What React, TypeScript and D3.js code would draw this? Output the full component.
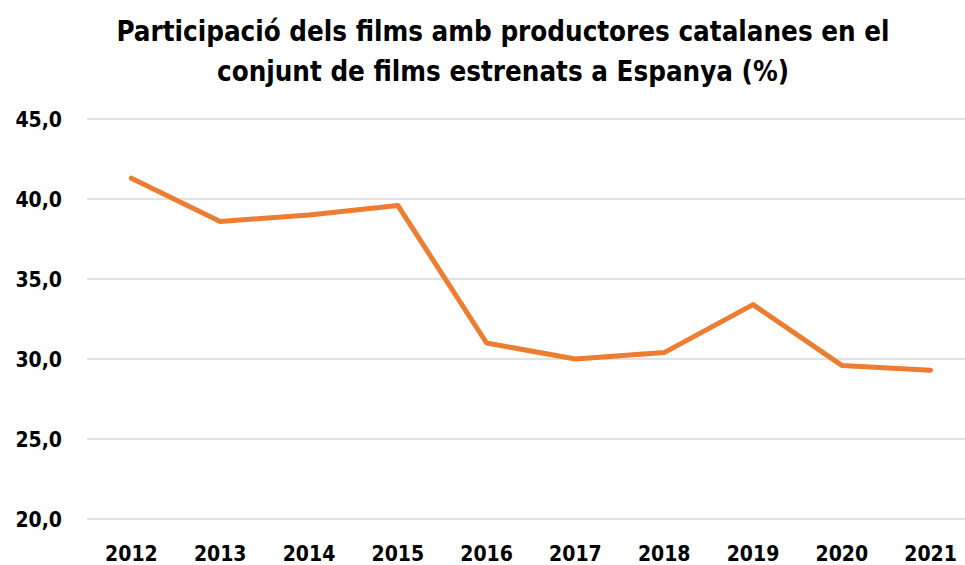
import React, { useEffect, useRef } from "react";
import * as d3 from "d3";

const width = 965;
const height = 565;

const margin = { top: 119, right: -10, bottom: 46, left: 87 };

const years = ["2012", "2013", "2014", "2015", "2016", "2017", "2018", "2019", "2020", "2021"];
const shares = [41.3, 38.6, 39.0, 39.6, 31.0, 30.0, 30.4, 33.4, 29.6, 29.3];
const yTicks = [20, 25, 30, 35, 40, 45];
const titleLines = [
  "Participació dels films amb productores catalanes en el",
  "conjunt de films estrenats a Espanya (%)",
];

const font = "'DejaVu Sans Condensed', 'DejaVu Sans', sans-serif";

export default function App() {
  const svgRef = useRef<SVGSVGElement>(null);

  useEffect(() => {
    const svg = d3.select(svgRef.current);
    svg.selectAll("*").remove();

    const x = d3.scaleBand<string>()
      .domain(years)
      .range([margin.left, width - margin.right]);
    const y = d3.scaleLinear()
      .domain([20, 45])
      .range([height - margin.bottom, margin.top]);

    // title
    svg.append("g")
      .selectAll("text")
      .data(titleLines)
      .join("text")
      .attr("x", 503)
      .attr("y", (d, i) => 41 + i * 40)
      .attr("text-anchor", "middle")
      .attr("font-family", font)
      .attr("font-weight", "bold")
      .attr("font-size", 27.5)
      .attr("fill", "#000")
      .text(d => d);

    // gridlines
    svg.append("g")
      .selectAll("line")
      .data(yTicks)
      .join("line")
      .attr("x1", margin.left)
      .attr("x2", width)
      .attr("y1", d => y(d))
      .attr("y2", d => y(d))
      .attr("stroke", "#d9d9d9")
      .attr("stroke-width", 1.5);

    // y labels
    svg.append("g")
      .selectAll("text")
      .data(yTicks)
      .join("text")
      .attr("x", 62)
      .attr("y", d => y(d) + 8)
      .attr("text-anchor", "end")
      .attr("font-family", font)
      .attr("font-weight", "bold")
      .attr("font-size", 21)
      .attr("fill", "#000")
      .text(d => d.toFixed(1).replace(".", ","));

    // x labels
    svg.append("g")
      .selectAll("text")
      .data(years)
      .join("text")
      .attr("x", d => (x(d) as number) + x.bandwidth() / 2)
      .attr("y", 561)
      .attr("text-anchor", "middle")
      .attr("font-family", font)
      .attr("font-weight", "bold")
      .attr("font-size", 21)
      .attr("fill", "#000")
      .text(d => d);

    const line = d3.line<number>()
      .x((d, i) => (x(years[i]) as number) + x.bandwidth() / 2)
      .y(d => y(d));

    svg.append("path")
      .datum(shares)
      .attr("fill", "none")
      .attr("stroke", "#ED7D31")
      .attr("stroke-width", 5)
      .attr("stroke-linejoin", "round")
      .attr("stroke-linecap", "round")
      .attr("d", line);
  }, []);

  return (
    <div style={{ position: "absolute", left: 0, top: 0, background: "#fff" }}>
      <svg width={width} height={height} ref={svgRef} style={{ display: "block" }} />
    </div>
  );
}
